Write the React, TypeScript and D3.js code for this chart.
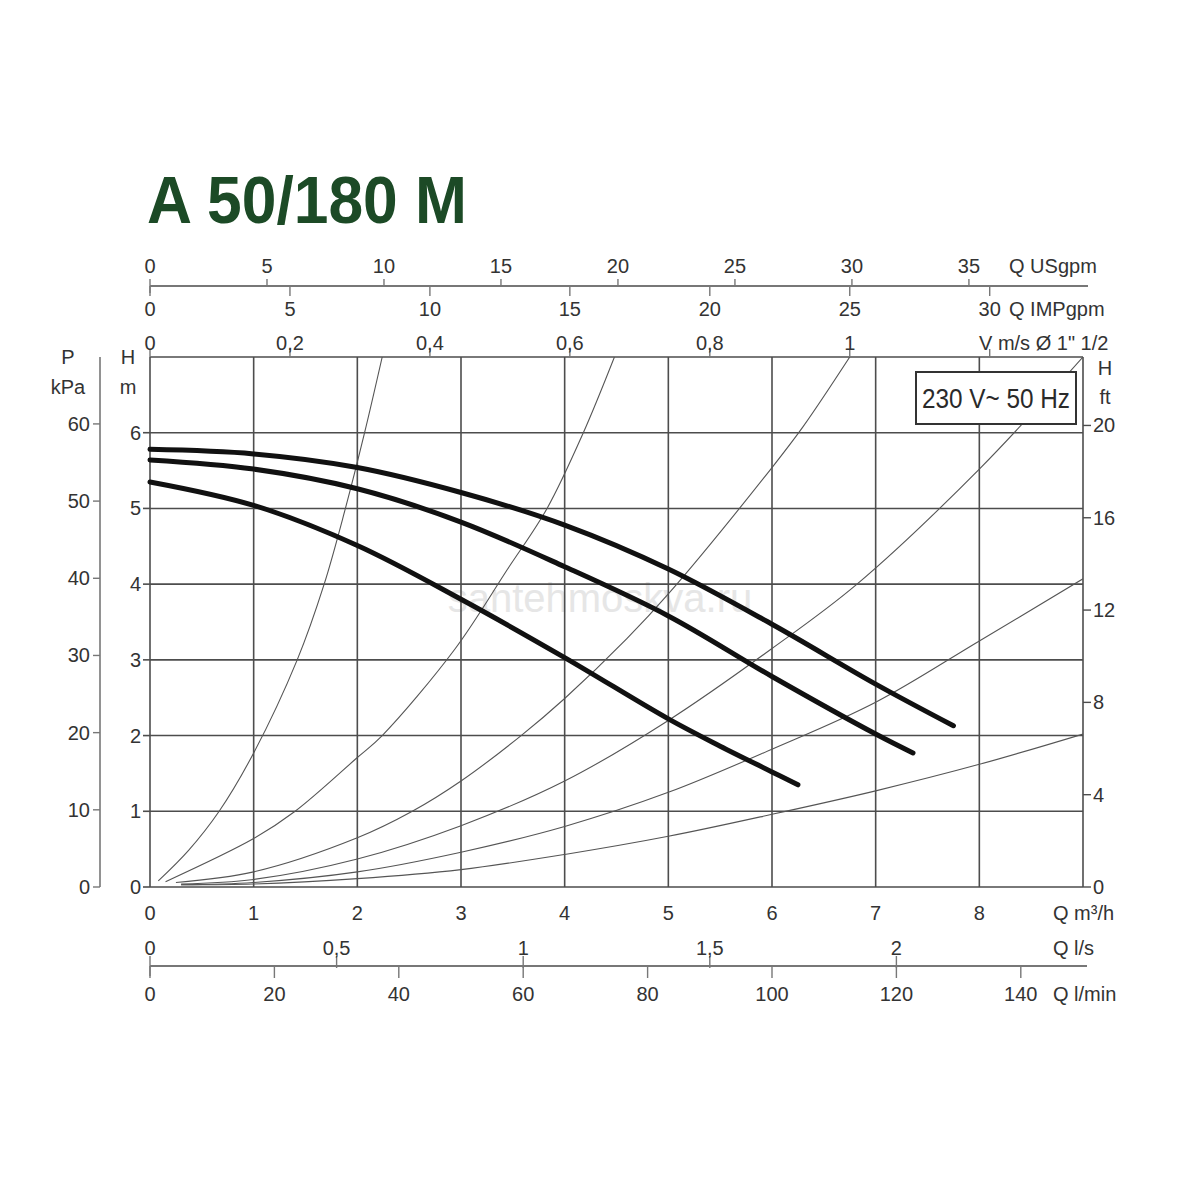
import React from "react";
import * as d3 from "d3";

// ---------- data ----------
const title = "A 50/180 M";
const ratingLabel = "230 V~ 50 Hz";

// pump curves (Q m3/h, H m)
const speed3Q = [0, 1, 2, 3, 4, 5, 6, 7, 7.75];
const speed3H = [5.78, 5.72, 5.54, 5.21, 4.78, 4.2, 3.47, 2.68, 2.13];
const speed2Q = [0, 1, 2, 3, 4, 5, 6, 7, 7.36];
const speed2H = [5.64, 5.52, 5.26, 4.82, 4.23, 3.58, 2.78, 2.02, 1.77];
const speed1Q = [0, 1, 2, 3, 4, 5, 5.5, 6, 6.25];
const speed1H = [5.35, 5.04, 4.51, 3.8, 3.03, 2.22, 1.86, 1.52, 1.35];

// system (resistance) curves
const sysAQ = [0.08, 0.37, 0.667, 1.0, 1.42, 1.68, 1.885, 2.07, 2.24];
const sysAH = [0.08, 0.48, 1.0, 1.77, 3.0, 4.0, 5.0, 6.0, 7.0];
const sysBQ = [0.15, 1.0, 1.4, 2.0, 2.24, 2.94, 3.45, 3.83, 4.18, 4.48];
const sysBH = [0.07, 0.64, 1.0, 1.71, 2.0, 3.14, 4.2, 5.0, 6.0, 7.0];
const sysCQ = [0.25, 1.0, 2.0, 2.53, 3.0, 3.58, 4.0, 4.6, 5.0, 6.0, 6.3, 6.75];
const sysCH = [0.06, 0.2, 0.65, 1.0, 1.4, 2.0, 2.49, 3.28, 3.87, 5.54, 6.08, 7.0];
const sysDQ = [0.3, 1.0, 2.0, 3.0, 4.0, 5.0, 6.0, 6.82, 8.0, 9.0];
const sysDH = [0.04, 0.1, 0.37, 0.81, 1.4, 2.2, 3.15, 4.0, 5.52, 7.0];
const sysEQ = [0.3, 1.0, 2.0, 3.0, 4.0, 5.0, 6.0, 7.0, 8.0, 9.0];
const sysEH = [0.03, 0.06, 0.2, 0.46, 0.8, 1.25, 1.82, 2.44, 3.25, 4.07];
const sysFQ = [0.3, 1.0, 2.0, 3.0, 4.0, 5.0, 6.0, 7.0, 8.0, 9.0];
const sysFH = [0.03, 0.04, 0.11, 0.23, 0.43, 0.67, 0.96, 1.27, 1.62, 2.02];

// axes ticks
const qTicks = [0, 1, 2, 3, 4, 5, 6, 7, 8];
const qGrid = [0, 1, 2, 3, 4, 5, 6, 7, 8, 9];
const hTicks = [0, 1, 2, 3, 4, 5, 6];
const hGrid = [0, 1, 2, 3, 4, 5, 6, 7];
const kpaTicks = [0, 10, 20, 30, 40, 50, 60];
const ftTicks = [0, 4, 8, 12, 16, 20];
const usTicks = [0, 5, 10, 15, 20, 25, 30, 35];
const impTicks = [0, 5, 10, 15, 20, 25, 30];
const vTicks = [0, 0.2, 0.4, 0.6, 0.8, 1, 1.2];
const vLabels = ["0", "0,2", "0,4", "0,6", "0,8", "1", ""];
const lsTicks = [0, 0.5, 1, 1.5, 2];
const lsLabels = ["0", "0,5", "1", "1,5", "2"];
const lminTicks = [0, 20, 40, 60, 80, 100, 120, 140];

// unit conversions (to m3/h and m)
const US_TO_M3H = 0.2257;
const IMP_TO_M3H = 0.27;
const V_TO_M3H = 6.75;
const LS_TO_M3H = 3.6;
const LMIN_TO_M3H = 0.06;
const KPA_PER_M = 9.81;
const M_PER_FT = 0.3048;

const Q_MAX = 9;
const H_MAX = 7;

export default function App() {
  const W = 1200;
  const H = 1200;
  const left = 150, right = 1083, top = 357, bottom = 887;

  const x = d3.scaleLinear().domain([0, Q_MAX]).range([left, right]);
  const y = d3.scaleLinear().domain([0, H_MAX]).range([bottom, top]);
  const yKpa = d3.scaleLinear().domain([0, H_MAX * KPA_PER_M]).range([bottom, top]);
  const yFt = d3.scaleLinear().domain([0, H_MAX / M_PER_FT]).range([bottom, top]);
  const xUS = d3.scaleLinear().domain([0, Q_MAX / US_TO_M3H]).range([left, right]);
  const xIMP = d3.scaleLinear().domain([0, Q_MAX / IMP_TO_M3H]).range([left, right]);
  const xV = d3.scaleLinear().domain([0, Q_MAX / V_TO_M3H]).range([left, right]);
  const xLs = d3.scaleLinear().domain([0, Q_MAX / LS_TO_M3H]).range([left, right]);
  const xLmin = d3.scaleLinear().domain([0, Q_MAX / LMIN_TO_M3H]).range([left, right]);

  const line = d3
    .line<[number, number]>()
    .x((d) => x(d[0]))
    .y((d) => y(d[1]))
    .curve(d3.curveCatmullRom.alpha(0.5));

  const zip = (a: number[], b: number[]) => a.map((v, i) => [v, b[i]] as [number, number]);

  const systems = [
    zip(sysAQ, sysAH),
    zip(sysBQ, sysBH),
    zip(sysCQ, sysCH),
    zip(sysDQ, sysDH),
    zip(sysEQ, sysEH),
    zip(sysFQ, sysFH),
  ];
  const pumps = [zip(speed3Q, speed3H), zip(speed2Q, speed2H), zip(speed1Q, speed1H)];

  const font = "'Liberation Sans', Arial, Helvetica, sans-serif";
  const txt = "#333";
  const grid = "#4d4d4d";
  const fs = 20;

  const usY = 286;
  const lminY = 966;

  return (
    <svg
      width={W}
      height={H}
      viewBox={`0 0 ${W} ${H}`}
      style={{ position: "absolute", left: 0, top: 0, background: "#fff" }}
      fontFamily={font}
    >
      <rect x={0} y={0} width={W} height={H} fill="#fff" />

      {/* title */}
      <text
        x={147}
        y={223}
        fontSize={66}
        fontWeight="bold"
        fill="#1c4a26"
        textLength={320}
        lengthAdjust="spacingAndGlyphs"
      >
        {title}
      </text>

      {/* watermark */}
      <text x={600} y={612} fontSize={40} fill="#e6e6e6" textAnchor="middle">
        santehmoskva.ru
      </text>

      {/* grid */}
      {qGrid.map((q) => (
        <line key={"vg" + q} x1={x(q)} x2={x(q)} y1={y(0)} y2={y(H_MAX)} stroke={grid} strokeWidth={1.6} />
      ))}
      {hGrid.map((h) => (
        <line key={"hg" + h} x1={x(0)} x2={x(Q_MAX)} y1={y(h)} y2={y(h)} stroke={grid} strokeWidth={1.6} />
      ))}

      <defs>
        <clipPath id="plotClip">
          <rect x={left} y={top} width={right - left} height={bottom - top} />
        </clipPath>
      </defs>

      {/* system curves */}
      <g clipPath="url(#plotClip)">
        {systems.map((s, i) => (
          <path key={"s" + i} d={line(s) || ""} fill="none" stroke="#555" strokeWidth={1.1} />
        ))}
      </g>

      {/* pump curves */}
      {pumps.map((p, i) => (
        <path key={"p" + i} d={line(p) || ""} fill="none" stroke="#111" strokeWidth={5} strokeLinecap="round" />
      ))}

      {/* rating box */}
      <rect x={916} y={372} width={160} height={52} fill="#fff" stroke="#333" strokeWidth={2} />
      <text
        x={996}
        y={408}
        fontSize={28}
        fill="#2a2a2a"
        textAnchor="middle"
        textLength={148}
        lengthAdjust="spacingAndGlyphs"
      >
        {ratingLabel}
      </text>

      {/* left H (m) axis */}
      {hTicks.map((h) => (
        <g key={"ht" + h}>
          <line x1={left - 7} x2={left} y1={y(h)} y2={y(h)} stroke={grid} strokeWidth={1.6} />
          <text x={141} y={y(h) + 7} fontSize={fs} fill={txt} textAnchor="end">
            {h}
          </text>
        </g>
      ))}
      <text x={128} y={364} fontSize={fs} fill={txt} textAnchor="middle">H</text>
      <text x={128} y={394} fontSize={fs} fill={txt} textAnchor="middle">m</text>

      {/* P kPa axis */}
      <line x1={100} x2={100} y1={yKpa(0)} y2={top} stroke="#777" strokeWidth={1.6} />
      {kpaTicks.map((k) => (
        <g key={"kt" + k}>
          <line x1={93} x2={100} y1={yKpa(k)} y2={yKpa(k)} stroke="#777" strokeWidth={1.4} />
          <text x={90} y={yKpa(k) + 7} fontSize={fs} fill={txt} textAnchor="end">
            {k}
          </text>
        </g>
      ))}
      <text x={68} y={364} fontSize={fs} fill={txt} textAnchor="middle">P</text>
      <text x={68} y={394} fontSize={fs} fill={txt} textAnchor="middle">kPa</text>

      {/* right ft axis */}
      {ftTicks.map((f) => (
        <g key={"ft" + f}>
          <line x1={right} x2={right + 8} y1={yFt(f)} y2={yFt(f)} stroke={grid} strokeWidth={1.4} />
          <text x={right + 10} y={yFt(f) + 7} fontSize={fs} fill={txt} textAnchor="start">
            {f}
          </text>
        </g>
      ))}
      <text x={1105} y={375} fontSize={fs} fill={txt} textAnchor="middle">H</text>
      <text x={1105} y={404} fontSize={fs} fill={txt} textAnchor="middle">ft</text>

      {/* top axes */}
      <line x1={left} x2={1088} y1={usY} y2={usY} stroke="#777" strokeWidth={1.8} />
      {usTicks.map((u) => (
        <g key={"us" + u}>
          <line x1={xUS(u)} x2={xUS(u)} y1={usY - 7} y2={usY + (u === 0 ? 7 : 0)} stroke="#777" strokeWidth={1.4} />
          <text x={xUS(u)} y={273} fontSize={fs} fill={txt} textAnchor="middle">
            {u}
          </text>
        </g>
      ))}
      <text x={1009} y={273} fontSize={fs} fill={txt}>Q USgpm</text>
      {impTicks.map((u) => (
        <g key={"imp" + u}>
          <line x1={xIMP(u)} x2={xIMP(u)} y1={usY} y2={usY + 10} stroke="#777" strokeWidth={1.4} />
          <text x={xIMP(u)} y={316} fontSize={fs} fill={txt} textAnchor="middle">
            {u}
          </text>
        </g>
      ))}
      <text x={1009} y={316} fontSize={fs} fill={txt}>Q IMPgpm</text>
      {vTicks.map((v, i) => (
        <g key={"v" + v}>
          <line x1={xV(v)} x2={xV(v)} y1={top - 8} y2={top} stroke="#777" strokeWidth={1.4} />
          <text x={xV(v)} y={350} fontSize={fs} fill={txt} textAnchor="middle">
            {vLabels[i]}
          </text>
        </g>
      ))}
      <text x={979} y={350} fontSize={fs} fill={txt}>V m/s Ø 1" 1/2</text>

      {/* bottom axes */}
      {qTicks.map((q) => (
        <text key={"qt" + q} x={x(q)} y={920} fontSize={fs} fill={txt} textAnchor="middle">
          {q}
        </text>
      ))}
      <text x={1053} y={920} fontSize={fs} fill={txt}>
        Q m³/h
      </text>
      <line x1={left} x2={1087} y1={lminY} y2={lminY} stroke="#777" strokeWidth={1.8} />
      {lsTicks.map((l, i) => (
        <g key={"ls" + l}>
          <line x1={xLs(l)} x2={xLs(l)} y1={lminY - 10} y2={lminY + (l === 0 ? 10 : 2)} stroke="#777" strokeWidth={1.4} />
          <text x={xLs(l)} y={955} fontSize={fs} fill={txt} textAnchor="middle">
            {lsLabels[i]}
          </text>
        </g>
      ))}
      <text x={1053} y={955} fontSize={fs} fill={txt}>Q l/s</text>
      {lminTicks.map((l) => (
        <g key={"lm" + l}>
          <line x1={xLmin(l)} x2={xLmin(l)} y1={lminY} y2={lminY + 12} stroke="#777" strokeWidth={1.4} />
          <text x={xLmin(l)} y={1001} fontSize={fs} fill={txt} textAnchor="middle">
            {l}
          </text>
        </g>
      ))}
      <text x={1053} y={1001} fontSize={fs} fill={txt}>Q l/min</text>
    </svg>
  );
}
